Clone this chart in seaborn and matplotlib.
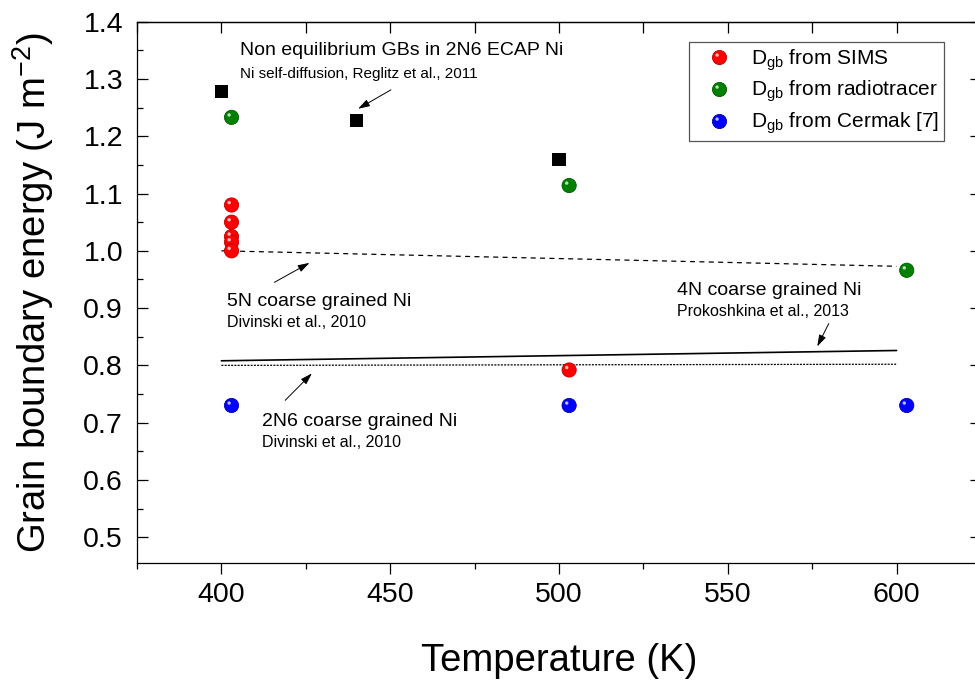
import numpy as np
import pandas as pd
import matplotlib
matplotlib.use("Agg")
import matplotlib.pyplot as plt
import seaborn as sns
from matplotlib.lines import Line2D
from matplotlib.path import Path
from matplotlib.legend_handler import HandlerTuple
from matplotlib.ticker import MultipleLocator

# ---------------- data ----------------
sims_T = [403, 403, 403, 403, 403, 503]
sims_E = [1.08, 1.05, 1.025, 1.015, 1.0, 0.792]
radio_T = [403, 503, 603]
radio_E = [1.233, 1.114, 0.966]
cermak_T = [403, 503, 603]
cermak_E = [0.73, 0.73, 0.73]
ecap_T = [400, 440, 500]
ecap_E = [1.278, 1.228, 1.16]

line_T = [400, 600]
line_5N = [1.0, 0.973]
line_4N = [0.808, 0.826]
line_2N6 = [0.800, 0.802]

series_labels = ["SIMS", "radiotracer", "Cermak"]
legend_labels = [r"D$_{\mathregular{gb}}$ from SIMS",
                 r"D$_{\mathregular{gb}}$ from radiotracer",
                 r"D$_{\mathregular{gb}}$ from Cermak [7]"]
colors = {"SIMS": "#ff0000", "radiotracer": "#008000", "Cermak": "#0000ff"}
edges = {"SIMS": "#c00000", "radiotracer": "#005a00", "Cermak": "#0000b0"}

pts = pd.DataFrame({
    "T": sims_T + radio_T + cermak_T,
    "E": sims_E + radio_E + cermak_E,
    "src": ["SIMS"] * len(sims_T) + ["radiotracer"] * len(radio_T) + ["Cermak"] * len(cermak_T),
})
ecap = pd.DataFrame({"T": ecap_T, "E": ecap_E})
lines = pd.DataFrame({
    "T": line_T * 3,
    "E": line_5N + line_4N + line_2N6,
    "ref": ["5N"] * 2 + ["4N"] * 2 + ["2N6"] * 2,
})

# ---------------- style ----------------
sns.set_style("ticks")
plt.rcParams["font.family"] = ["Liberation Sans", "DejaVu Sans"]
plt.rcParams["mathtext.fontset"] = "custom"
plt.rcParams["mathtext.rm"] = "Liberation Sans"
plt.rcParams["mathtext.it"] = "Liberation Sans:italic"
plt.rcParams["axes.linewidth"] = 0.9
for key in ["text.color", "axes.labelcolor", "xtick.color", "ytick.color", "axes.edgecolor"]:
    plt.rcParams[key] = "black"

fig = plt.figure(figsize=(9.75, 6.84), dpi=100)
ax = fig.add_axes([137 / 975, 1 - 563 / 684, (981 - 137) / 975, (563 - 21.7) / 684])

# lines
styles = {"5N": (0, (4, 3.5)), "4N": "-", "2N6": (0, (1.6, 1.0))}
widths = {"5N": 0.9, "4N": 1.2, "2N6": 0.9}
for ref in ["5N", "4N", "2N6"]:
    sub = lines[lines["ref"] == ref]
    sns.lineplot(data=sub, x="T", y="E", ax=ax, color="black",
                 linestyle=styles[ref], linewidth=widths[ref], legend=False)

# black squares
sns.scatterplot(data=ecap, x="T", y="E", ax=ax, marker="s", s=88,
                color="black", edgecolor="none", legend=False, zorder=3)

# spheres
sns.scatterplot(data=pts, x="T", y="E", hue="src", palette=colors, ax=ax,
                s=105, edgecolor=[edges[v] for v in pts["src"]], linewidth=0.6,
                legend=False, zorder=4)
# highlight spot marker (off-centre path -> appears upper-left)
th = np.linspace(0, 2 * np.pi, 40)
hl_verts = np.column_stack([-0.17 + 0.12 * np.cos(th), 0.17 + 0.12 * np.sin(th)])
hl_verts = np.vstack([hl_verts, [[0.5, -0.5]]])
codes = [Path.MOVETO] + [Path.LINETO] * (len(th) - 1) + [Path.MOVETO]
hl_marker = Path(hl_verts, codes)
ax.scatter(pts["T"], pts["E"], marker=hl_marker, s=105,
           c="white", alpha=0.75, edgecolors="none", zorder=5)

# ---------------- axes ----------------
ax.set_xlim(375, 625)
ax.set_ylim(0.455, 1.4)
ax.xaxis.set_major_locator(MultipleLocator(50))
ax.xaxis.set_minor_locator(MultipleLocator(25))
ax.yaxis.set_major_locator(MultipleLocator(0.1))
ax.yaxis.set_minor_locator(MultipleLocator(0.05))
ax.yaxis.set_major_formatter(matplotlib.ticker.FormatStrFormatter("%.1f"))
ax.tick_params(axis="x", which="major", direction="out", length=8, width=0.9,
               labelsize=20.5, pad=6, top=False)
ax.tick_params(axis="x", which="minor", direction="out", length=4.5, width=0.9, top=False)
ax.tick_params(axis="y", which="major", direction="in", length=8, width=0.9,
               labelsize=20.5, pad=10, left=True, right=True)
ax.tick_params(axis="y", which="minor", direction="in", length=4.5, width=0.9,
               left=True, right=True)
sec = ax.secondary_xaxis("top")
sec.xaxis.set_major_locator(MultipleLocator(25))
sec.tick_params(axis="x", which="major", direction="in", length=8, width=0.9, labeltop=False)
sec.tick_params(axis="x", which="minor", length=0)
sec.spines["top"].set_linewidth(0.9)

ax.set_xlabel("Temperature (K)", fontsize=27.5)
ax.set_ylabel(r"Grain boundary energy (J m$^{\mathregular{-2}}$)", fontsize=27.5)
ax.yaxis.set_label_coords(-0.096, 0.5)
ax.xaxis.set_label_coords(0.5, -0.148)

# ---------------- annotations ----------------
big, small = 14, 11.5
ax.text(405.4, 1.349, "Non equilibrium GBs in 2N6 ECAP Ni", fontsize=big, va="center")
ax.text(405.4, 1.309, "Ni self-diffusion, Reglitz et al., 2011", fontsize=small - 0.5, va="center")
ax.text(401.7, 0.911, "5N coarse grained Ni", fontsize=big, va="center")
ax.text(401.7, 0.874, "Divinski et al., 2010", fontsize=small, va="center")
ax.text(412.1, 0.702, "2N6 coarse grained Ni", fontsize=big, va="center")
ax.text(412.1, 0.665, "Divinski et al., 2010", fontsize=small, va="center")
ax.text(534.9, 0.931, "4N coarse grained Ni", fontsize=big, va="center")
ax.text(534.9, 0.894, "Prokoshkina et al., 2013", fontsize=small, va="center")

arrow = dict(arrowstyle="-|>,head_length=0.7,head_width=0.22", color="black",
             lw=0.7, shrinkA=0, shrinkB=0)
ax.annotate("", xy=(440.5, 1.248), xytext=(450.2, 1.281), arrowprops=arrow)
ax.annotate("", xy=(426.1, 0.979), xytext=(415.7, 0.945), arrowprops=arrow)
ax.annotate("", xy=(426.8, 0.786), xytext=(418.9, 0.739), arrowprops=arrow)
ax.annotate("", xy=(576.5, 0.833), xytext=(579.9, 0.873), arrowprops=arrow)

# ---------------- legend ----------------
handles = []
for src in series_labels:
    h1 = Line2D([], [], linestyle="none", marker="o", markersize=10.2,
                markerfacecolor=colors[src], markeredgecolor=edges[src], markeredgewidth=0.6)
    h2 = Line2D([], [], linestyle="none", marker=hl_marker, markersize=10.2,
                markerfacecolor="white", alpha=0.75, markeredgecolor="none")
    handles.append((h1, h2))
leg = ax.legend(handles, legend_labels, handler_map={tuple: HandlerTuple(ndivide=1)},
                loc="upper right", bbox_to_anchor=(0.956, 0.9625), borderaxespad=0,
                fontsize=15, frameon=True, fancybox=False, framealpha=1,
                edgecolor="#555555", handlelength=2.4, handletextpad=0.3,
                labelspacing=0.3, borderpad=0.25)
leg.get_frame().set_linewidth(0.9)

fig.savefig("out.png", dpi=100)
